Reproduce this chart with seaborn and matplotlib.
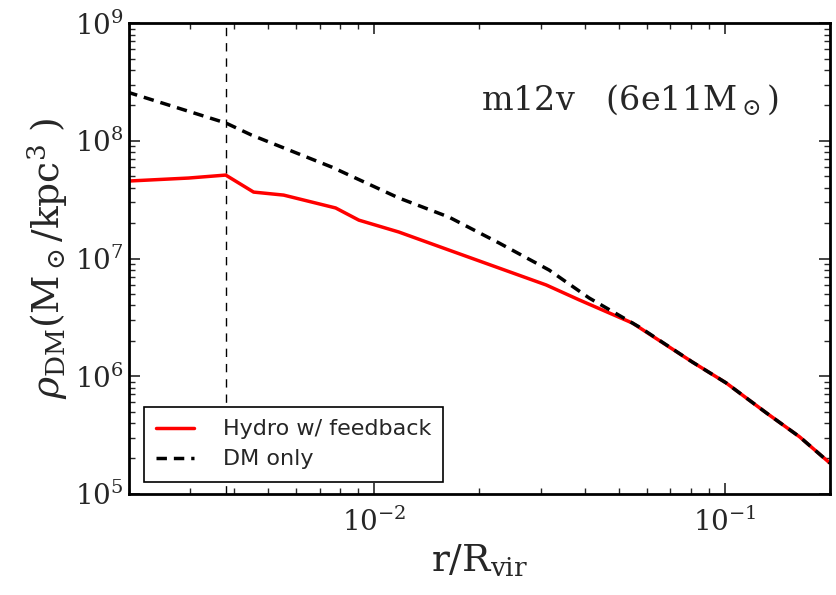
import numpy as np
import pandas as pd
import seaborn as sns
import matplotlib
matplotlib.use("Agg")
import matplotlib.pyplot as plt
from matplotlib.ticker import LogLocator, LogFormatterMathtext, NullFormatter

# perfis de densidade (r/Rvir, rho em Msun/kpc^3)
r_hydro = [0.00198, 0.00296, 0.00378, 0.00454, 0.00553, 0.00778, 0.00906, 0.01178,
           0.01637, 0.0310, 0.0385, 0.0546, 0.0809, 0.101, 0.1315, 0.1637, 0.1995]
rho_hydro = [4.55e7, 4.83e7, 5.12e7, 3.67e7, 3.46e7, 2.69e7, 2.12e7, 1.68e7,
             1.18e7, 5.96e6, 4.45e6, 2.83e6, 1.32e6, 8.77e5, 4.88e5, 3.05e5, 1.83e5]

r_dmo = [0.00198, 0.00378, 0.00448, 0.00759, 0.01178, 0.01637, 0.02275, 0.0316,
         0.0411, 0.0571, 0.0809, 0.101, 0.1315, 0.1637, 0.1995]
rho_dmo = [2.6e8, 1.42e8, 1.12e8, 5.98e7, 3.27e7, 2.25e7, 1.355e7, 7.98e6,
           4.62e6, 2.62e6, 1.32e6, 8.77e5, 4.88e5, 3.05e5, 1.83e5]

r_soft = 0.00378  # linha vertical (resolução)
labels = ["Hydro w/ feedback", "DM only"]

df = pd.concat([
    pd.DataFrame({"r": r_hydro, "rho": rho_hydro, "run": labels[0]}),
    pd.DataFrame({"r": r_dmo, "rho": rho_dmo, "run": labels[1]}),
])

sns.set_style("ticks")
plt.rcParams["font.family"] = ["DejaVu Serif"]
plt.rcParams["mathtext.fontset"] = "dejavuserif"
plt.rcParams["xtick.direction"] = "in"
plt.rcParams["ytick.direction"] = "in"

fig = plt.figure(figsize=(8.36, 5.95), dpi=100)
ax = fig.add_axes([0.154, 0.170, 0.839, 0.791])

ax.axvline(r_soft, color="black", lw=1.0, ls=(0, (6, 5)), zorder=1)
sns.lineplot(data=df, x="r", y="rho", hue="run", style="run",
             palette={labels[0]: "red", labels[1]: "black"},
             dashes={labels[0]: "", labels[1]: (3, 2)},
             estimator=None, sort=False, lw=2.5, ax=ax)

ax.set_xscale("log")
ax.set_yscale("log")
ax.set_xlim(0.002, 0.2)
ax.set_ylim(1e5, 1e9)

for axis in (ax.xaxis, ax.yaxis):
    axis.set_major_locator(LogLocator(base=10))
    axis.set_major_formatter(LogFormatterMathtext())
    axis.set_minor_locator(LogLocator(base=10, subs=np.arange(2, 10)))
    axis.set_minor_formatter(NullFormatter())

ax.tick_params(which="both", direction="in", top=True, right=True, labelsize=20)
ax.tick_params(which="major", length=8, width=1.2)
ax.tick_params(which="minor", length=4, width=1.0)
ax.tick_params(axis="x", pad=10)
for sp in ax.spines.values():
    sp.set_linewidth(2)
    sp.set_color("black")

ax.set_xlabel(r"$\rm r/R_{vir}$", fontsize=27)
ax.set_ylabel(r"$\rho_{\rm DM}(\rm M_\odot/kpc^3\ )$", fontsize=27)

ax.text(0.926, 0.837, r"m12v   (6e11M$_\odot$)", transform=ax.transAxes,
        ha="right", va="center", fontsize=24)

leg = ax.legend(loc="lower left", bbox_to_anchor=(0.012, 0.012), fancybox=False,
                edgecolor="black", framealpha=1, prop={"family": "DejaVu Sans", "size": 16},
                handlelength=1.7, handletextpad=1.3, borderpad=0.55, borderaxespad=0.3,
                labelspacing=0.45)
leg.get_frame().set_linewidth(1.2)

fig.savefig("out.png", dpi=100)
